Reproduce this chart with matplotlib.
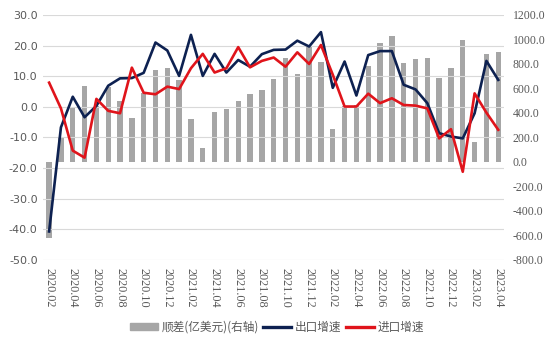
import numpy as np
import matplotlib.pyplot as plt
from matplotlib.patches import Patch
from matplotlib.lines import Line2D

plt.rcParams['font.family'] = ['Noto Sans CJK SC', 'DejaVu Sans']

# 月份 2020.02 - 2023.04
months = [f"{y}.{m:02d}" for y in range(2020, 2024) for m in range(1, 13)]
months = months[months.index("2020.02"):months.index("2023.04") + 1]

# 顺差(亿美元)
balance = [-623, 205, 445, 618, 460, 612, 500, 360, 560, 748, 765,
           669, 354, 117, 408, 435, 500, 555, 590, 677,
           846, 718, 941, 816, 269, 457, 463, 784, 974, 1028,
           811, 841, 851, 688, 770, 996, 166, 882, 900]
# 出口增速 (%)
export_growth = [-40.7, -6.7, 3.3, -3.4, 0.3, 6.9, 9.3, 9.4, 11.1, 21.0, 18.4,
                 10.1, 23.5, 10.1, 17.3, 11.2, 15.3, 13.1, 17.2, 18.6,
                 18.7, 21.6, 19.7, 24.4, 6.2, 14.8, 3.7, 16.9, 18.2, 18.2,
                 7.2, 5.7, 1.2, -8.6, -9.7, -10.3, -2.1, 15.0, 8.8]
# 进口增速 (%)
import_growth = [7.9, -0.5, -14.3, -16.6, 2.6, -1.3, -2.1, 12.8, 4.6, 4.1, 6.6,
                 5.8, 12.6, 17.3, 11.2, 12.6, 19.5, 12.9, 15.0, 16.1,
                 13.1, 17.8, 14.0, 20.2, 10.5, 0.1, 0.1, 4.3, 1.2, 2.8,
                 0.6, 0.4, -0.5, -10.3, -7.3, -21.2, 4.4, -1.9, -7.5]

x = np.arange(len(months))
grey_txt = '#595959'

fig = plt.figure(figsize=(5.54, 3.48), dpi=100)
ax = fig.add_axes([0.078, 0.253, 0.832, 0.704])
ax2 = ax.twinx()

ax2.bar(x, balance, width=0.45, color='#a6a6a6', zorder=1)
ax.plot(x, export_growth, color='#0d2151', lw=1.9, zorder=3)
ax.plot(x, import_growth, color='#e0141b', lw=1.9, zorder=3)

# 折线画在柱子上面
ax.set_zorder(ax2.get_zorder() + 1)
ax.patch.set_visible(False)

ax.set_ylim(-50, 30)
ax.set_yticks(np.arange(-50, 31, 10))
ax.set_yticklabels([f"{v:.1f}" for v in np.arange(-50, 31, 10)],
                   fontsize=8, color=grey_txt, family='DejaVu Sans')
ax2.set_ylim(-800, 1200)
ax2.set_yticks(np.arange(-800, 1201, 200))
ax2.set_yticklabels([f"{v:.1f}" for v in np.arange(-800, 1201, 200)],
                    fontsize=8.5, color=grey_txt, family='Liberation Serif')

ax.set_xlim(-0.5, len(months) - 0.5)
ax.set_xticks(x[::2])
ax.set_xticklabels(months[::2], rotation=270, fontsize=8.8, color=grey_txt,
                   family='Liberation Serif')

ax.grid(axis='y', color='#d9d9d9', lw=0.8)
ax.set_axisbelow(True)
for a in (ax, ax2):
    for s in a.spines.values():
        s.set_visible(False)
    a.tick_params(length=0, pad=4)
ax.tick_params(axis='x', pad=6)
ax2.tick_params(axis='y', pad=6)

handles = [Patch(color='#a6a6a6'),
           Line2D([], [], color='#0d2151', lw=2.4),
           Line2D([], [], color='#e0141b', lw=2.4)]
labels = ['顺差(亿美元)(右轴)', '出口增速', '进口增速']
leg = fig.legend(handles, labels, loc='center', bbox_to_anchor=(0.5, 0.06),
                 ncol=3, frameon=False, fontsize=8.4, handlelength=2.4,
                 handleheight=0.6, columnspacing=0.4, handletextpad=0.3)
for t in leg.get_texts():
    t.set_color(grey_txt)

fig.savefig('out.png', dpi=100)
